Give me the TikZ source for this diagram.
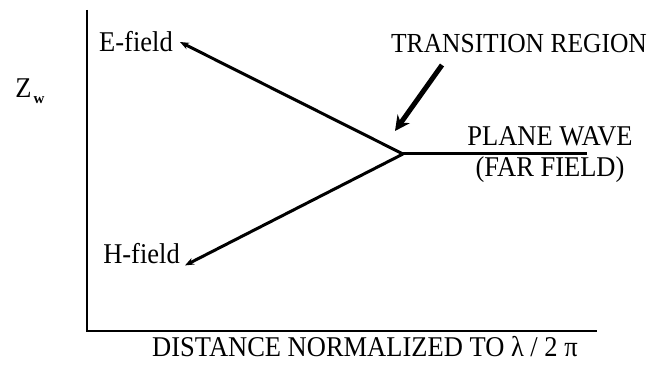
\documentclass[tikz,border=0pt]{standalone}
\usepackage{fontspec}
\setmainfont{Liberation Serif}
\usetikzlibrary{arrows.meta}
\newcommand{\tallx}[1]{\scalebox{1}[1.08]{#1}}

\begin{document}
\begin{tikzpicture}[x=1pt, y=1pt,
        lbl/.style={font=\fontsize{26.5}{28}\selectfont, inner sep=0pt},
        branch/.style={line width=3pt, -{Stealth[length=9pt, width=7pt, inset=3pt]}}]
        \useasboundingbox (0, 0) rectangle (653, 364);

        % axes
        \coordinate (top) at (87, 354);
        \coordinate (o) at (87, 33);
        \coordinate (right) at (597, 33);
        \draw[line width=2.6pt] (top) -- (o) -- (right);

        \node[lbl] (zw) at (30, 273) {\tallx{Z}\hspace{2pt}\raisebox{-6pt}{\fontsize{15}{15}\selectfont\bfseries w}};
        \node[lbl] (xlabel) at (365, 17) {\tallx{DISTANCE NORMALIZED TO λ / 2 π}};

        % field branches
        \coordinate (junc) at (403, 210);
        \coordinate (far) at (587, 210);
        \node[lbl, anchor=east] (efield) at (173, 322) {\tallx{E-field}};
        \node[lbl, anchor=east] (hfield) at (180, 110) {\tallx{H-field}};

        \draw[branch] (junc) -- ([xshift=7pt]efield.east);
        \draw[branch] (junc) -- ([xshift=5pt, yshift=-1pt]hfield.south east);
        \draw[line width=3pt] (junc) -- (far);

        \node[lbl] (plane) at (550, 228) {\tallx{PLANE WAVE}};
        \node[lbl] (farfield) at (550, 194) {\tallx{(FAR FIELD)}};

        % transition
        \node[lbl, font=\fontsize{25.5}{27}\selectfont] (trans) at (519, 320) {\tallx{TRANSITION REGION}};
        \coordinate (tstart) at (442, 299);
        \coordinate (tend) at (395, 233);
        \draw[line width=5pt, -{Stealth[length=15pt, width=15pt, inset=5pt]}] (tstart) -- (tend);
\end{tikzpicture}
\end{document}
